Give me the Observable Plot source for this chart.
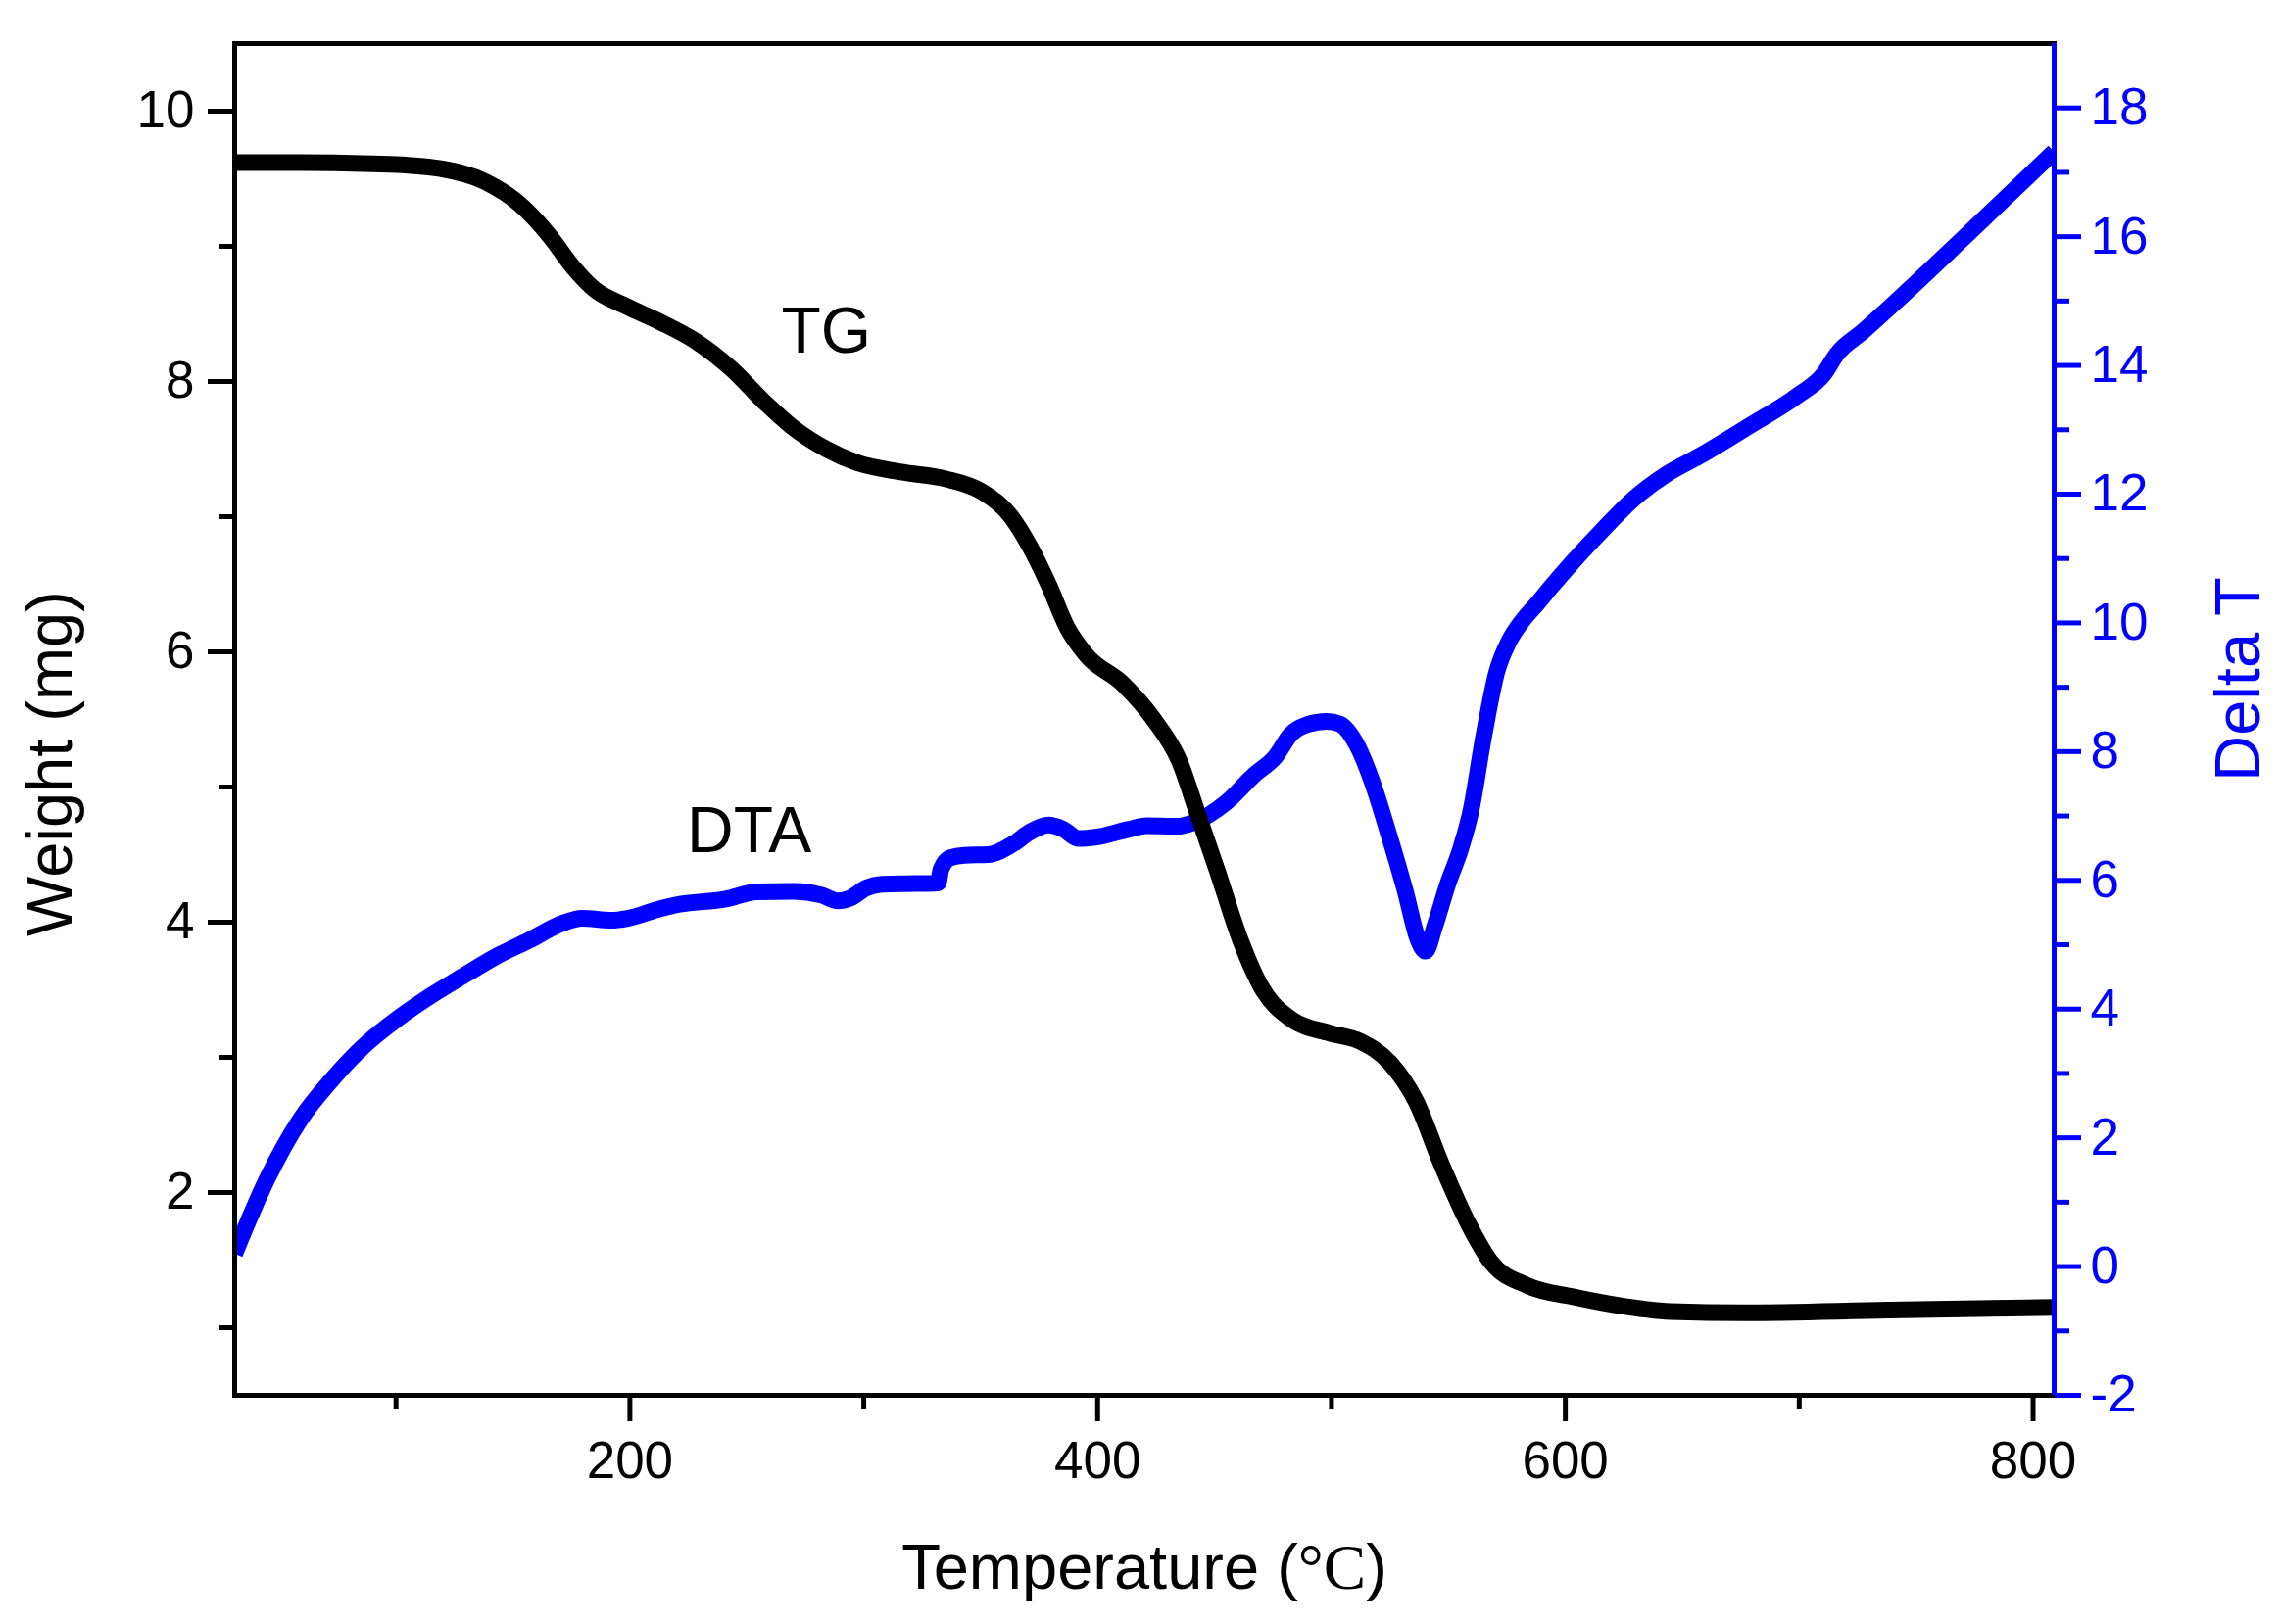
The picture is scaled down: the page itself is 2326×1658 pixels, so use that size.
<!DOCTYPE html>
<html>
<head>
<meta charset="utf-8">
<script src="https://cdn.jsdelivr.net/npm/d3@7"></script>
<script src="https://cdn.jsdelivr.net/npm/@observablehq/plot@0.6"></script>
<style>
  body { margin: 0; background: #fff; }
  #chart svg { display: block; }
</style>
</head>
<body>
<div id="chart"></div>
<script>
// TG curve (weight, mg)
const tgTemp = [31, 60, 90, 105, 119, 138, 153, 166, 175.5, 185, 198, 213, 228, 243, 258, 269, 284, 297, 316, 335, 350, 363, 371, 379, 387, 395, 411, 424, 435, 443, 451, 461, 470, 483, 499, 512, 525, 536, 547, 558.5, 568, 584, 603, 621, 645, 676, 738, 809];
const tgWeight = [9.62, 9.62, 9.61, 9.60, 9.575, 9.48, 9.31, 9.07, 8.85, 8.68, 8.56, 8.44, 8.30, 8.10, 7.84, 7.67, 7.50, 7.40, 7.33, 7.28, 7.19, 7.00, 6.78, 6.50, 6.18, 5.98, 5.76, 5.50, 5.19, 4.79, 4.39, 3.87, 3.52, 3.28, 3.18, 3.12, 2.96, 2.68, 2.21, 1.77, 1.49, 1.31, 1.23, 1.17, 1.12, 1.11, 1.13, 1.15];

// DTA curve (delta T)
const dtaTemp = [31, 45, 59, 73, 87, 101, 115, 129, 143, 157, 171, 179.5, 192, 199, 213, 220, 241, 254, 270, 282, 289, 294, 301, 308, 322, 331.8, 333, 337, 343, 353, 364, 371, 379, 385, 392, 399, 413, 421, 434, 441, 455, 467, 476, 482.6, 489.6, 498, 503.6, 510.6, 517.6, 524.6, 531.5, 537.1, 540.2, 544.1, 549.7, 555.3, 559.5, 565, 570.7, 576, 582, 588, 594.4, 604, 615.3, 629.3, 643.3, 657.3, 678.2, 699.2, 710.4, 716, 727, 741, 770, 809];
const dtaValue = [0.2, 1.37, 2.28, 2.92, 3.45, 3.86, 4.21, 4.52, 4.82, 5.07, 5.33, 5.41, 5.38, 5.41, 5.56, 5.62, 5.71, 5.82, 5.83, 5.77, 5.68, 5.72, 5.88, 5.94, 5.95, 5.96, 6.17, 6.35, 6.39, 6.40, 6.57, 6.75, 6.86, 6.80, 6.65, 6.67, 6.79, 6.85, 6.84, 6.90, 7.21, 7.64, 7.92, 8.27, 8.42, 8.47, 8.43, 8.12, 7.51, 6.70, 5.84, 5.07, 4.90, 5.28, 5.94, 6.50, 7.06, 8.22, 9.24, 9.72, 10.05, 10.3, 10.58, 10.98, 11.42, 11.93, 12.31, 12.59, 13.05, 13.53, 13.86, 14.17, 14.52, 14.98, 15.97, 17.32];

// axes
const xDomain = [31, 809];
const weightDomain = [0.5, 10.5];
const dtaDomain = [-2, 19];
const xTicks = [200, 400, 600, 800];
const xMinorTicks = [100, 300, 500, 700];
const weightTicks = [2, 4, 6, 8, 10];
const weightMinorTicks = [1, 3, 5, 7, 9];
const dtaTicks = [-2, 0, 2, 4, 6, 8, 10, 12, 14, 16, 18];
const dtaMinorTicks = [-1, 1, 3, 5, 7, 9, 11, 13, 15, 17];

// curve labels
const curveLabels = [
  {text: "TG", temp: 284, weight: 8.37},
  {text: "DTA", temp: 251, weight: 4.67}
];

const xTitle = "Temperature (°C)";
const yTitle = "Weight (mg)";
const y2Title = "Delta T";

// right axis values are drawn on the left (weight) scale
const toWeight = d3.scaleLinear().domain(dtaDomain).range(weightDomain);

const tg = tgTemp.map((t, i) => ({temp: t, weight: tgWeight[i]}));
const dta = dtaTemp.map((t, i) => ({temp: t, weight: toWeight(dtaValue[i])}));

const font = "'Liberation Sans', Arial, sans-serif";
const blue = "#0000ff";

let chart = Plot.plot({
  width: 2326,
  height: 1658,
  marginLeft: 239,
  marginRight: 230,
  marginTop: 44,
  marginBottom: 234,
  style: {fontFamily: font, background: "white"},
  x: {domain: xDomain},
  y: {domain: weightDomain},
  marks: [
    Plot.line(dta, {x: "temp", y: "weight", stroke: blue, strokeWidth: 17, curve: "monotone-x", strokeLinecap: "butt", clip: true}),
    Plot.line(tg, {x: "temp", y: "weight", stroke: "black", strokeWidth: 17, curve: "monotone-x", strokeLinecap: "butt", clip: true}),
    Plot.frame({stroke: "black", strokeWidth: 5}),
    Plot.ruleX([xDomain[1]], {stroke: blue, strokeWidth: 5}),
    // bottom axis
    Plot.axisX({ticks: xTicks, tickSize: 27, tickPadding: 20, fontSize: 53, strokeWidth: 5, label: null}),
    Plot.axisX({ticks: xMinorTicks, tickSize: 15, tickFormat: () => "", strokeWidth: 5, label: null}),
    // left axis
    Plot.axisY({ticks: weightTicks, tickSize: 27, tickPadding: 14, fontSize: 53, strokeWidth: 5, label: null}),
    Plot.axisY({ticks: weightMinorTicks, tickSize: 15, tickFormat: () => "", strokeWidth: 5, label: null}),
    // right axis (Delta T)
    Plot.axisY({anchor: "right", ticks: dtaTicks.map(toWeight), tickFormat: (d) => d3.format("d")(Math.round(toWeight.invert(d))).replace("\u2212", "-"),
      tickSize: 27, tickPadding: 10, fontSize: 53, stroke: blue, fill: blue, strokeWidth: 5, label: null}),
    Plot.axisY({anchor: "right", ticks: dtaMinorTicks.map(toWeight), tickSize: 15, tickFormat: () => "", stroke: blue, strokeWidth: 5, label: null}),
    // curve labels
    Plot.text(curveLabels, {x: "temp", y: "weight", text: "text", fontSize: 66, fill: "black"}),
    // axis titles
    Plot.text([xTitle], {frameAnchor: "bottom", dy: 197, text: (d) => d, fontSize: 65, fill: "black", textAnchor: "middle"}),
    Plot.text([yTitle], {frameAnchor: "left", dx: -187, dy: 45, rotate: -90, textAnchor: "middle", text: (d) => d, fontSize: 65, fill: "black"}),
    Plot.text([y2Title], {frameAnchor: "right", dx: 189, dy: -41, rotate: -90, textAnchor: "middle", text: (d) => d, fontSize: 65, fill: blue})
  ]
});

// the degree sign in the x title is set in a serif face, as in the original
d3.select(chart).selectAll("text")
  .filter(function () { return this.textContent === xTitle; })
  .each(function () {
    const t = d3.select(this).text(null);
    t.append("tspan").text("Temperature (");
    t.append("tspan").attr("font-family", "'Liberation Serif', 'Times New Roman', serif").text("°C");
    t.append("tspan").text(")");
  });

d3.select("#chart").append(() => chart);
</script>
</body>
</html>
